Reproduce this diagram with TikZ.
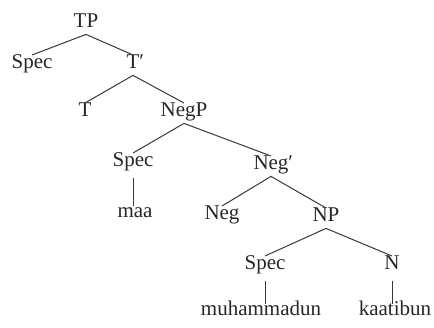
\documentclass[tikz,border=0pt]{standalone}
\usepackage{fontspec}
\setmainfont{Liberation Serif}
\begin{document}
\begin{tikzpicture}[x=1pt,y=1pt,
  lbl/.style={anchor=base,inner sep=0pt,text height=0.68em,text depth=0.22em,
    font=\fontsize{21}{25}\selectfont,text=black!85},
  branch/.style={line width=1pt,draw=black!78}]
\useasboundingbox (0,0) rectangle (434,-328);
% labels, placed on their baselines
\node[lbl] (TP)    at (86,-28)   {TP};
\node[lbl] (SpecA) at (32,-69)   {Spec};
\node[lbl] (Tbar)  at (133,-69)  {T\rlap{′}};
\node[lbl] (T)     at (85,-117)  {T};
\node[lbl] (NegP)  at (184,-117) {NegP};
\node[lbl] (SpecB) at (133,-167) {Spec};
\node[lbl] (Negbar) at (271,-170) {Neg\rlap{′}};
\node[lbl] (maa)   at (135,-218) {maa};
\node[lbl] (Neg)   at (222,-220) {Neg};
\node[lbl] (NP)    at (326,-222) {NP};
\node[lbl] (SpecC) at (265,-270) {Spec};
\node[lbl] (N)     at (392,-270) {N};
\node[lbl] (muh)   at (261,-316) {muhammadun};
\node[lbl] (kaat)  at (395,-316) {kaatibun};
% branching edges
\foreach \p/\c in {TP/SpecA,TP/Tbar,Tbar/T,Tbar/NegP,NegP/SpecB,NegP/Negbar,
                   Negbar/Neg,Negbar/NP,NP/SpecC,NP/N}
  \draw[branch] ([yshift=-4pt]\p.south) -- ([yshift=7pt]\c.north);
% unary edges to the words, dropped straight down
\foreach \p/\c in {SpecB/maa,SpecC/muh,N/kaat}
  \draw[branch] ([yshift=-9pt]\p.south) -- ([yshift=5pt]\p.south |- \c.north);
\end{tikzpicture}
\end{document}
